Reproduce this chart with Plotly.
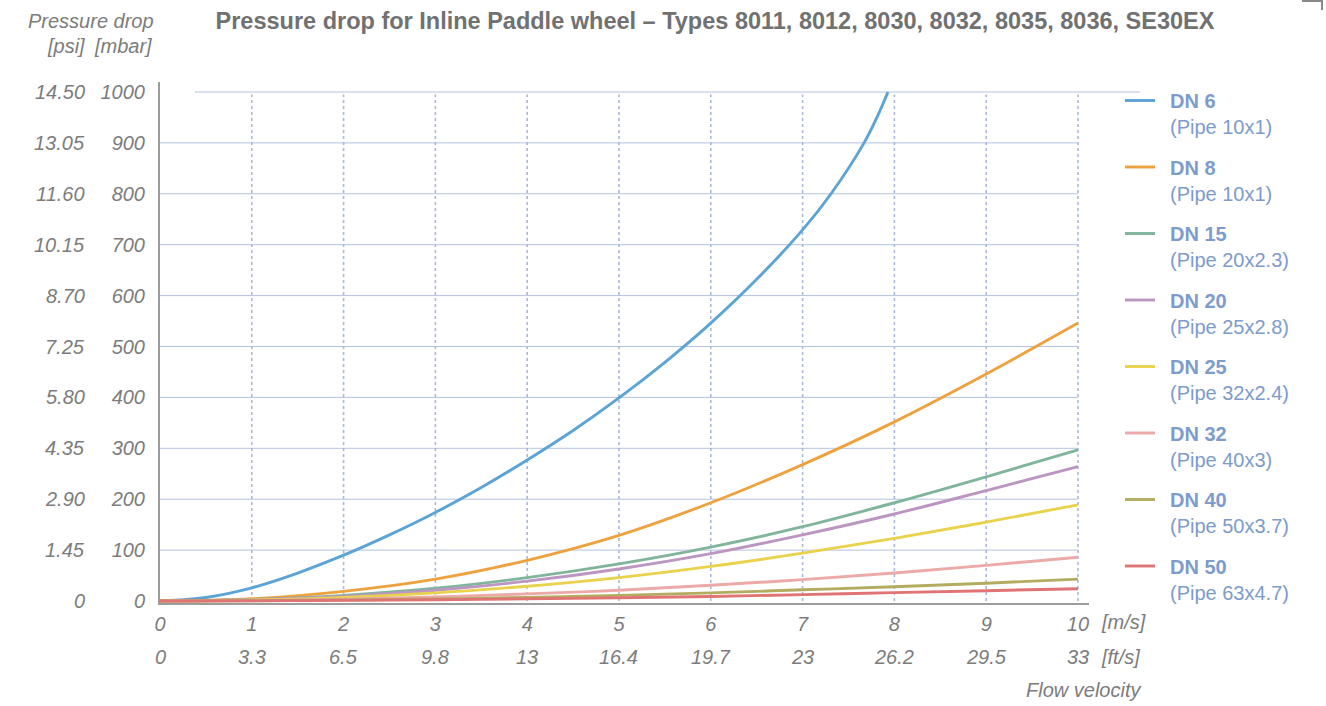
import plotly.graph_objects as go

# ---------------- data ----------------
x_dn6 = [0, 0.5, 1, 1.5, 2, 2.5, 3, 3.5, 4, 4.5, 5, 5.5, 6, 6.5, 7, 7.31, 7.67, 7.81, 7.93]
y_dn6 = [0, 7, 26, 55, 90, 130, 174, 223, 277, 335, 399, 469, 546, 632, 729, 800, 900, 950, 1000]

x_std = [0, 1, 2, 3, 4, 5, 6, 7, 8, 9, 10]
y_dn8 = [0, 4.5, 19, 43, 80, 129, 193, 268, 352, 446, 546]
y_dn15 = [0, 3, 11, 25, 46, 73, 106, 146, 193, 244, 297]
y_dn20 = [0, 2.5, 9, 21, 39, 63, 93, 130, 171, 217, 264]
y_dn25 = [0, 2, 7, 16, 29, 46, 68, 94, 123, 155, 189]
y_dn32 = [0, 1, 3.5, 8, 14, 21, 31, 42, 55, 70, 86]
y_dn40 = [0, 0.5, 2, 4, 7, 11, 16, 22, 28, 35, 43]
y_dn50 = [0, 0.3, 1.2, 2.5, 4.2, 6.3, 9, 12.5, 16.5, 20.3, 24]

series_names = ["DN 6", "DN 8", "DN 15", "DN 20", "DN 25", "DN 32", "DN 40", "DN 50"]
pipe_names = ["(Pipe 10x1)", "(Pipe 10x1)", "(Pipe 20x2.3)", "(Pipe 25x2.8)",
              "(Pipe 32x2.4)", "(Pipe 40x3)", "(Pipe 50x3.7)", "(Pipe 63x4.7)"]
colors = ["#5ca3d6", "#eea23f", "#80b59b", "#ba96c1", "#e9d24c", "#eba9a8", "#b3ac60", "#e07373"]

mbar_ticks = [0, 100, 200, 300, 400, 500, 600, 700, 800, 900, 1000]
psi_labels = ["0", "1.45", "2.90", "4.35", "5.80", "7.25", "8.70", "10.15", "11.60", "13.05", "14.50"]
ms_ticks = [0, 1, 2, 3, 4, 5, 6, 7, 8, 9, 10]
fts_labels = ["0", "3.3", "6.5", "9.8", "13", "16.4", "19.7", "23", "26.2", "29.5", "33"]

# ---------------- layout geometry ----------------
W, H = 1326, 706
PL, PR, PT, PB = 160, 1089, 82, 603   # plot area in pixels
MB = 40                               # bottom margin (paper bottom = H - MB)


def px_x(p):
    return (p - PL) / (PR - PL)


def px_y(p):
    return (H - MB - p) / (H - MB)


GRAY = "#7c7c7c"
LEG = "#7d9bcb"
GRID = "#b3c3e3"
FONT = "Liberation Sans"
SP = "\u2002"

fig = go.Figure()

xs = [x_dn6] + [x_std] * 7
ys = [y_dn6, y_dn8, y_dn15, y_dn20, y_dn25, y_dn32, y_dn40, y_dn50]
for i in range(len(series_names)):
    fig.add_trace(go.Scatter(
        x=xs[i], y=ys[i], mode="lines",
        line=dict(color=colors[i], width=2.9, shape="spline", smoothing=1.0),
        name=f"<b>{SP}{series_names[i]}</b><br>{SP}{pipe_names[i]}",
        legendgroup=f"g{i}",
        hoverinfo="skip",
    ))

shapes = []
for v in mbar_ticks[1:-1]:
    shapes.append(dict(type="line", xref="x", yref="y", x0=0, x1=10, y0=v, y1=v,
                       line=dict(color=GRID, width=1), layer="below"))
shapes.append(dict(type="line", xref="paper", yref="paper",
                   x0=px_x(195), x1=px_x(1140), y0=px_y(92), y1=px_y(92),
                   line=dict(color=GRID, width=1), layer="below"))
for v in ms_ticks[1:]:
    shapes.append(dict(type="line", xref="x", yref="y", x0=v, x1=v, y0=0, y1=995,
                       line=dict(color="#a9b8dc", width=1.6, dash="dot"), layer="below"))
shapes.append(dict(type="path", xref="paper", yref="paper",
                   path=f"M {px_x(1302)},{px_y(1)} L {px_x(1322)},{px_y(1)} L {px_x(1322)},{px_y(10)}",
                   line=dict(color="#8a8a8a", width=2)))

annotations = []
lab_font = dict(family=FONT, size=20, color=GRAY, style="italic")
for v, t in zip(mbar_ticks, psi_labels):
    annotations.append(dict(xref="paper", yref="y", x=px_x(87), y=v, text=t,
                            showarrow=False, xanchor="right", yanchor="middle", font=lab_font))
for v, t in zip(ms_ticks, fts_labels):
    annotations.append(dict(xref="x", yref="paper", x=v, y=px_y(657), text=t,
                            showarrow=False, xanchor="center", yanchor="middle", font=lab_font))
annotations += [
    dict(xref="paper", yref="paper", x=px_x(1099), y=px_y(622), text="[m/s]",
         showarrow=False, xanchor="left", yanchor="middle", font=lab_font),
    dict(xref="paper", yref="paper", x=px_x(1099), y=px_y(657), text="[ft/s]",
         showarrow=False, xanchor="left", yanchor="middle", font=lab_font),
    dict(xref="paper", yref="paper", x=px_x(1143), y=px_y(690), text="Flow velocity",
         showarrow=False, xanchor="right", yanchor="middle", font=lab_font),
    dict(xref="paper", yref="paper", x=px_x(156), y=px_y(21), text="Pressure drop",
         showarrow=False, xanchor="right", yanchor="middle", font=lab_font),
    dict(xref="paper", yref="paper", x=px_x(87), y=px_y(46), text="[psi]",
         showarrow=False, xanchor="right", yanchor="middle", font=lab_font),
    dict(xref="paper", yref="paper", x=px_x(154), y=px_y(46), text="[mbar]",
         showarrow=False, xanchor="right", yanchor="middle", font=lab_font),
]

fig.update_layout(
    width=W, height=H,
    margin=dict(l=PL, r=W - PR, t=0, b=MB, pad=0),
    paper_bgcolor="white", plot_bgcolor="white",
    font=dict(family=FONT, color=GRAY),
    title=dict(text="<b>Pressure drop for Inline Paddle wheel – Types 8011, 8012, 8030, 8032, 8035, 8036, SE30EX</b>",
               x=715 / W, xanchor="center", y=1 - 21 / H, yanchor="middle",
               font=dict(family=FONT, size=23.5, color="#717171")),
    xaxis=dict(range=[0, 10.12], tickvals=ms_ticks, ticktext=[str(v) for v in ms_ticks],
               showgrid=False, zeroline=False, showline=True, linecolor="#9c9c9c", linewidth=2,
               ticks="", ticklabelstandoff=2, tickfont=lab_font, fixedrange=True),
    yaxis=dict(range=[-3.9, 1019.6], domain=[px_y(PB), px_y(PT)],
               tickvals=mbar_ticks, ticktext=[str(v) for v in mbar_ticks],
               showgrid=False, zeroline=False, showline=True, linecolor="#9c9c9c", linewidth=2,
               ticks="", ticklabelstandoff=9, tickfont=lab_font, fixedrange=True),
    legend=dict(x=px_x(1120), xanchor="left", y=px_y(81), yanchor="top",
                font=dict(family=FONT, size=20, color=LEG),
                valign="top", itemwidth=30, tracegroupgap=11.5, traceorder="grouped",
                bgcolor="rgba(0,0,0,0)", borderwidth=0),
    shapes=shapes,
    annotations=annotations,
    showlegend=True,
)

fig.write_html("out.html", config={"displayModeBar": False},
               post_script="document.body.style.margin='0';")
